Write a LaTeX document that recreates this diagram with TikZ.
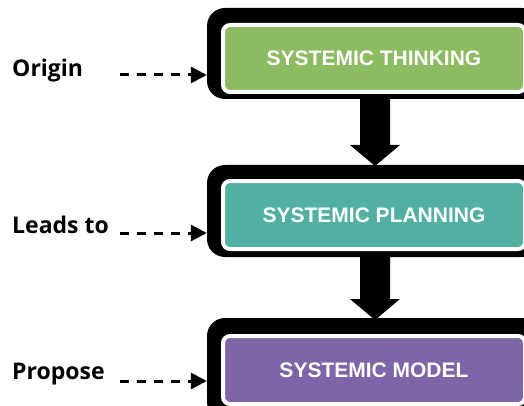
\documentclass[tikz,border=0pt]{standalone}
\usepackage{fontspec}
\setmainfont{Liberation Sans}
\newfontfamily\labelfont{Open Sans}
\usetikzlibrary{arrows.meta,calc}
\definecolor{thinkgreen}{RGB}{141,187,98}
\definecolor{planteal}{RGB}{82,176,162}
\definecolor{modelpurple}{RGB}{125,101,168}

\begin{document}
\begin{tikzpicture}[x=1pt,y=-1pt,
  frame/.style={fill=black, rounded corners=18pt, inner sep=0pt,
    minimum width=333pt},
  stagebox/.style={draw=white, line width=4pt, rounded corners=7pt,
    inner sep=0pt, minimum width=302pt, minimum height=68pt,
    text=white, font=\bfseries\fontsize{21}{25}\selectfont},
  sidelabel/.style={anchor=base west, inner sep=0pt,
    font=\labelfont\bfseries\fontsize{23}{27}\selectfont},
  dasharrow/.style={line width=3pt, dash pattern=on 9pt off 8pt,
    -{Triangle[length=16pt,width=16pt]}},
  blockarrow/.style={fill=black}
]
\useasboundingbox (0,0) rectangle (524,406);
\clip (0,0) rectangle (524,406);

% black frames behind each stage
\node[frame, minimum height=91pt]  (f1) at (373.5,53.5) {};
\node[frame, minimum height=92pt]  (f2) at (373.5,211) {};
\node[frame, minimum height=102pt] (f3) at (373.5,369) {};

% stage boxes
\node[stagebox, fill=thinkgreen,  minimum height=67pt] (s1) at (374,58.5) {SYSTEMIC THINKING};
\node[stagebox, fill=planteal]    (s2) at (374,215) {SYSTEMIC PLANNING};
\node[stagebox, fill=modelpurple] (s3) at (374,370) {SYSTEMIC MODEL};

% block arrows between the stages
\coordinate (a1s) at (375,97);
\coordinate (a1e) at (375,166);
\coordinate (a2s) at (375,255);
\coordinate (a2e) at (375,320);
\foreach \s/\e in {a1s/a1e, a2s/a2e}{
  \fill[blockarrow] ($(\s)+(-15,0)$) -- ($(\e)+(-15,-21)$) -- ($(\e)+(-25,-21)$)
    -- (\e) -- ($(\e)+(25,-21)$) -- ($(\e)+(15,-21)$) -- ($(\s)+(15,0)$) -- cycle;
}

% side labels
\node[sidelabel] (l1) at (12,77)  {Origin};
\node[sidelabel] (l2) at (12,233) {Leads to};
\node[sidelabel] (l3) at (12,379) {Propose};

% dashed pointers to the frames
\coordinate (d1) at (120,75);
\coordinate (d2) at (120,233);
\coordinate (d3) at (120,381);
\draw[dasharrow] (d1) -- (d1 -| f1.west);
\draw[dasharrow] (d2) -- (d2 -| f2.west);
\draw[dasharrow] (d3) -- (d3 -| f3.west);
\end{tikzpicture}
\end{document}
